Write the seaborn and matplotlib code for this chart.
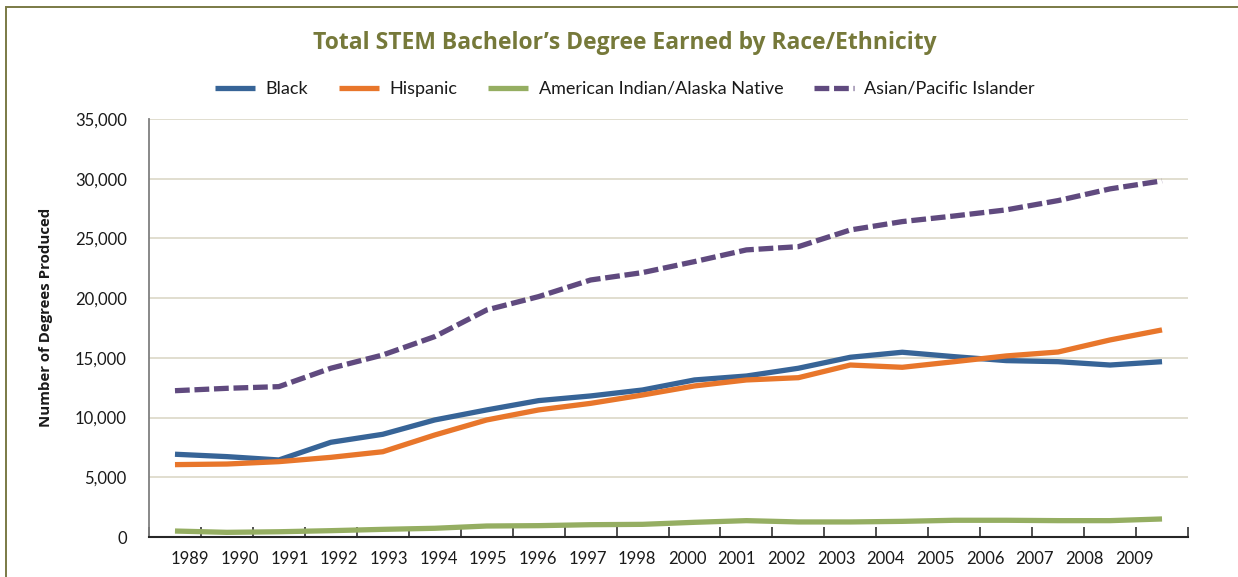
import matplotlib
matplotlib.use("Agg")
import matplotlib.pyplot as plt
from matplotlib.patches import Rectangle
from matplotlib.ticker import FuncFormatter, FixedLocator
import numpy as np
import pandas as pd
import seaborn as sns

years = ["1989", "1990", "1991", "1992", "1993", "1994", "1995", "1996", "1997", "1998",
         "2000", "2001", "2002", "2003", "2004", "2005", "2006", "2007", "2008", "2009"]
black = [6930, 6730, 6450, 7930, 8600, 9800, 10640, 11420, 11810, 12310,
         13150, 13480, 14130, 15050, 15470, 15100, 14770, 14680, 14400, 14680]
hispanic = [6060, 6110, 6310, 6670, 7140, 8540, 9800, 10640, 11190, 11890,
            12650, 13150, 13340, 14400, 14210, 14680, 15160, 15490, 16500, 17340]
am_indian = [500, 390, 440, 530, 640, 730, 920, 950, 1030, 1060,
             1230, 1370, 1260, 1260, 1310, 1400, 1400, 1370, 1370, 1510]
asian = [12250, 12450, 12590, 14130, 15240, 16780, 19010, 20130, 21520, 22140,
         23060, 24040, 24310, 25710, 26410, 26880, 27390, 28170, 29150, 29820]
series_names = ["Black", "Hispanic", "American Indian/Alaska Native", "Asian/Pacific Islander"]

sns.set_theme(style="white")
plt.rcParams['font.family'] = ['Lato', 'DejaVu Sans']

colors = {"Black": "#376497", "Hispanic": "#E8762B",
          "American Indian/Alaska Native": "#95AE62", "Asian/Pacific Islander": "#604A7F"}

rows = []
for name, vals in zip(series_names, [black, hispanic, am_indian, asian]):
    for i, v in enumerate(vals):
        rows.append({"pos": i, "year": years[i], "series": name, "value": v})
df = pd.DataFrame(rows)

W, H = 1238, 577
fig = plt.figure(figsize=(W / 100, H / 100), dpi=100)
fig.patch.set_facecolor("white")
ax = fig.add_axes([149 / W, 1 - 537 / H, (1188 - 149) / W, (537 - 119) / H])

for name in series_names:
    sub = df[df["series"] == name]
    sns.lineplot(data=sub, x="pos", y="value", ax=ax, color=colors[name], lw=3.8,
                 label=name, legend=False, errorbar=None, sort=False)
line_asian = ax.get_lines()[-1]
line_asian.set_dashes((2.8, 0.9))
line_asian.set_dash_capstyle("butt")
for ln in ax.get_lines():
    ln.set_solid_capstyle("butt")

n = len(years)
ax.set_xlim(-0.5, n - 0.5)
ax.set_ylim(0, 35000)
ax.set_yticks(np.arange(0, 35001, 5000))
ax.yaxis.set_major_formatter(FuncFormatter(lambda v, p: f"{int(v):,}"))
ax.yaxis.grid(True, color="#DEDBCB", lw=1.3)
ax.set_axisbelow(True)

# category labels in the source are laid out on a slightly compressed spacing
label_pos = 0.29 + 0.9566 * np.arange(n)
ax.set_xticks(label_pos)
ax.set_xticklabels(years)
ax.xaxis.set_minor_locator(FixedLocator(np.arange(-0.5, n + 0.5, 1.0)))
ax.tick_params(axis="x", which="major", length=0, pad=10, labelsize=12, colors="#1a1a1a")
ax.tick_params(axis="x", which="minor", length=7, width=1.2, direction="in", color="#333333", bottom=True)
ax.tick_params(axis="y", which="major", length=0, pad=16, labelsize=12, colors="#1a1a1a")

for s in ["top", "right"]:
    ax.spines[s].set_visible(False)
ax.spines["left"].set_color("#7f7f7f")
ax.spines["left"].set_linewidth(1.3)
ax.spines["bottom"].set_color("#262626")
ax.spines["bottom"].set_linewidth(1.5)

ax.set_xlabel("")
ax.set_ylabel("Number of Degrees Produced", fontsize=10.8, fontweight="bold",
              family=["Open Sans", "DejaVu Sans"], color="#1a1a1a", labelpad=14)
ax.yaxis.set_label_coords(-0.0925, 0.525)

fig.text(625 / W, 1 - 43 / H, "Total STEM Bachelor\u2019s Degree Earned by Race/Ethnicity",
         ha="center", va="center", fontsize=16.5, fontweight="bold",
         family=["Open Sans", "DejaVu Sans"], color="#76793A")

handles = ax.get_lines()
leg = fig.legend(handles, series_names, loc="center", bbox_to_anchor=(625 / W, 1 - 89 / H),
                 ncol=4, frameon=False, fontsize=13, handlelength=2.2, columnspacing=1.7,
                 handletextpad=0.6)
for t in leg.get_texts():
    t.set_color("#1a1a1a")

fig.patches.append(Rectangle((6 / W, -0.1), 1.2, 1 - 7 / H + 0.1, transform=fig.transFigure,
                             fill=False, edgecolor="#7A7A45", lw=1.4))

fig.savefig("out.png", dpi=100)
